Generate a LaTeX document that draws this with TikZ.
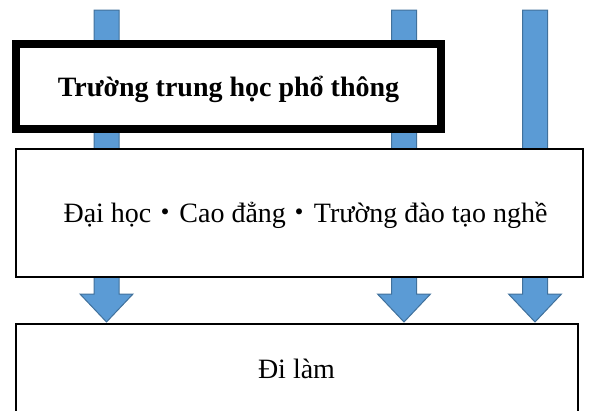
\documentclass[tikz,border=0pt]{standalone}
\usepackage{fontspec}
\setmainfont{Liberation Serif}
\newfontfamily\cjk{Noto Sans CJK JP}
\definecolor{arrowfill}{HTML}{5B9BD5}
\definecolor{arrowline}{HTML}{41719C}
\begin{document}
\begin{tikzpicture}[x=1pt,y=-1pt,
  blockarrow/.style={fill=arrowfill,draw=arrowline,line width=1pt,line join=miter},
  thickbox/.style={draw=black,fill=white,line width=8pt},
  plainbox/.style={draw=black,fill=white,line width=2pt},
  label/.style={font=\fontsize{28}{32}\selectfont,inner sep=0pt}]
\useasboundingbox (0,0) rectangle (596,410);
% block arrows (behind the boxes)
\foreach \cx/\nm in {106.5/a1,404/a2,535/a3}{
  \draw[blockarrow] (\cx-12.5,10) -- (\cx+12.5,10) -- (\cx+12.5,294) -- (\cx+26.5,294)
     -- (\cx,322) -- (\cx-26.5,294) -- (\cx-12.5,294) -- cycle;
}
% boxes
\draw[thickbox] (16,44) rectangle (441,129);
\node[label,font=\fontsize{28}{32}\selectfont\bfseries] (top) at (228.5,89) {Trường trung học phổ thông};
\draw[plainbox] (16,149) rectangle (583,277);
\node[label] (mid) at (305.5,215) {Đại học{\cjk ・}Cao đẳng{\cjk ・}Trường đào tạo nghề};
\draw[plainbox] (16,324) rectangle (578,415);
\node[label] (bot) at (296.5,369) {Đi làm};
\end{tikzpicture}
\end{document}
